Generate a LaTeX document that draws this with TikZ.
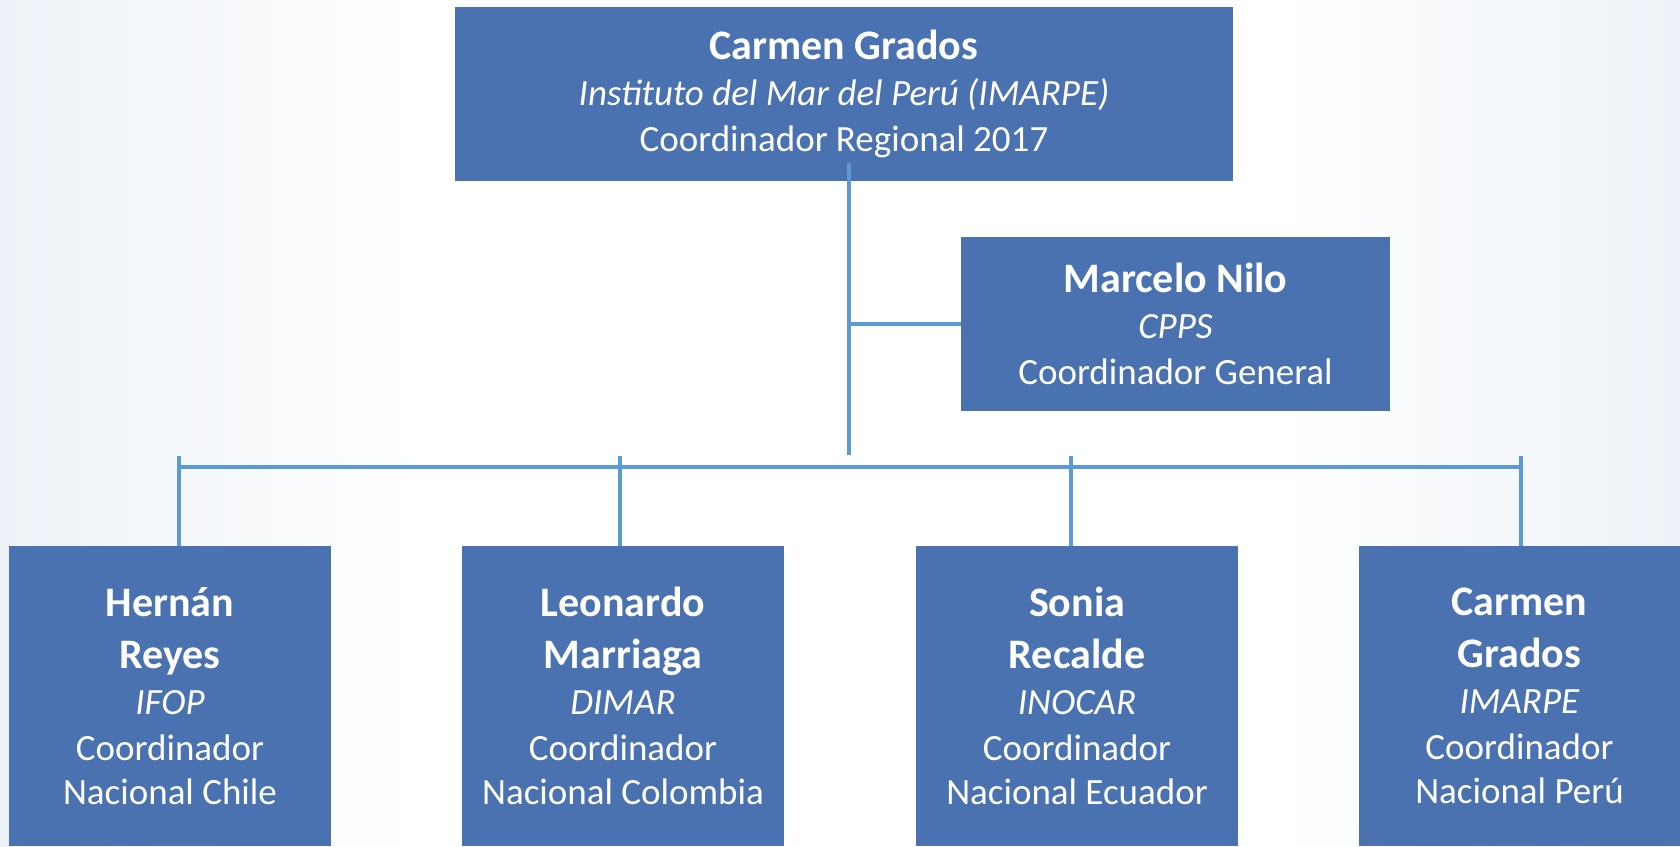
\documentclass[tikz,border=0pt]{standalone}
\usepackage{fontspec}
\setmainfont{Carlito}
\definecolor{boxblue}{HTML}{4A72B0}
\definecolor{linkblue}{HTML}{5B9BD5}
\definecolor{bgtint}{HTML}{EDF2F8}
\newcommand{\nm}[1]{{\fontsize{21}{25}\selectfont\bfseries #1}}
\tikzset{
  orgbox/.style={fill=boxblue,text=white,align=center,inner sep=0pt,
    font=\fontsize{18.5}{23}\selectfont},
  link/.style={draw=linkblue,line width=1.6pt},
  natbox/.style={orgbox,minimum width=161pt,minimum height=150pt}
}
\begin{document}
\begin{tikzpicture}[x=0.5pt,y=-0.5pt]
  \useasboundingbox (0,0) rectangle (1680,846);
  \shade[left color=bgtint,right color=white] (0,0) rectangle (420,846);
  \shade[left color=white,right color=bgtint] (1280,0) rectangle (1680,846);
  \node[orgbox,minimum width=389pt,minimum height=86.75pt] (reg) at (844,94)
    {\nm{Carmen Grados}\\\textit{Instituto del Mar del Perú (IMARPE)}\\Coordinador Regional 2017};
  \node[orgbox,minimum width=214.5pt,minimum height=87pt] (gen) at (1175.5,324)
    {\nm{Marcelo Nilo}\\\textit{CPPS}\\Coordinador General};
  \node[natbox] (chile) at (170,696)
    {\nm{Hernán}\\[3pt]\nm{Reyes}\\\textit{IFOP}\\Coordinador\\[-1pt]Nacional Chile};
  \node[natbox] (colombia) at (623,696)
    {\nm{Leonardo}\\[3pt]\nm{Marriaga}\\\textit{DIMAR}\\Coordinador\\[-1pt]Nacional Colombia};
  \node[natbox] (ecuador) at (1077,696)
    {\nm{Sonia}\\[3pt]\nm{Recalde}\\\textit{INOCAR}\\Coordinador\\[-1pt]Nacional Ecuador};
  \node[natbox] (peru) at (1519.5,696)
    {\nm{Carmen}\\[3pt]\nm{Grados}\\\textit{IMARPE}\\Coordinador\\[-1pt]Nacional Perú};
  \coordinate (top) at (849,163);
  \coordinate (bot) at (849,455);
  \coordinate (b1) at (179,456);
  \coordinate (b2) at (620,456);
  \coordinate (b3) at (1071,456);
  \coordinate (b4) at (1521,456);
  \draw[link] (top)--(bot);
  \draw[link] (gen.west)--(gen.west -| top);
  \draw[link] ([yshift=-5.5pt]b1)--([yshift=-5.5pt]b4);
  \draw[link] (b1)--(b1 |- chile.north);
  \draw[link] (b2)--(b2 |- colombia.north);
  \draw[link] (b3)--(b3 |- ecuador.north);
  \draw[link] (b4)--(b4 |- peru.north);
\end{tikzpicture}
\end{document}
